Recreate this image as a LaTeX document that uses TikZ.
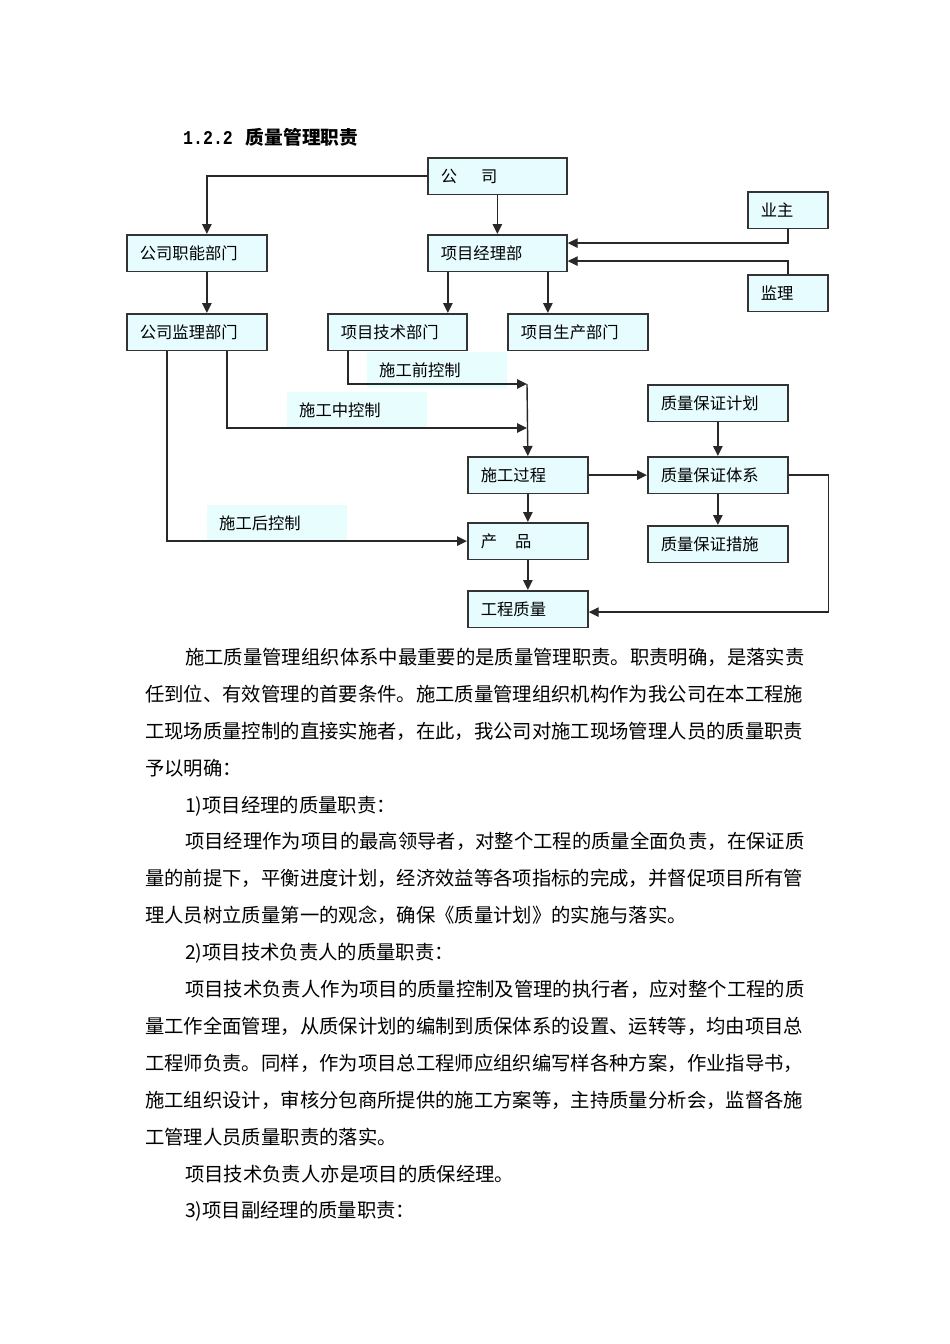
\documentclass[tikz,border=0pt]{standalone}
\usepackage{graphicx}
\usepackage{fontspec}
\newfontfamily\cjk{Noto Sans CJK SC}
\newfontfamily\monofont{Liberation Mono}
\usetikzlibrary{arrows.meta}
\definecolor{boxfill}{RGB}{230,252,255}
\definecolor{lblfill}{RGB}{232,253,253}
\definecolor{linecol}{RGB}{40,40,40}
\tikzset{
  box/.style={draw=black!80, line width=1.7pt, fill=boxfill, anchor=north west,
    minimum height=36.5pt, inner xsep=13pt, inner ysep=0pt, text width=#1, align=left,
    font=\cjk\fontsize{16.3}{16.3}\selectfont},
  lbl/.style={fill=lblfill, anchor=north west, minimum height=36pt, inner xsep=12pt,
    inner ysep=0pt, text width=116pt, align=left, font=\cjk\fontsize{16.3}{16.3}\selectfont},
  conn/.style={draw=linecol, line width=1.4pt},
  arr/.style={conn, -{Triangle[length=10pt,width=9.5pt]}},
  body/.style={anchor=base west, inner sep=0pt, font=\cjk\fontsize{19.35}{19.35}\selectfont}
}
\begin{document}
\begin{tikzpicture}[x=1pt,y=-1pt]
\useasboundingbox (0,0) rectangle (950,1344);
\fill[white] (0,0) rectangle (950,1344);

% heading
\node[anchor=base west, inner sep=0pt] (head) at (183,144)
  {\scalebox{0.85}[1]{\monofont\bfseries\fontsize{19.5}{19.5}\selectfont 1.2.2}\hspace{13pt}{\cjk\bfseries\fontsize{18.7}{18.7}\selectfont 质量管理职责}};

% labels (drawn first, lines go over them)
\node[lbl] (lq) at (367,352) {施工前控制};
\node[lbl] (lz) at (287,392) {施工中控制};
\node[lbl] (lh) at (207,505) {施工后控制};

% boxes
\node[box=113pt] (gs)  at (427,157) {公\hspace{24pt}司};
\node[box=54pt]  (yz)  at (747,191) {业主};
\node[box=114pt] (zn)  at (126,234) {公司职能部门};
\node[box=113pt] (jl)  at (427,234) {项目经理部};
\node[box=54pt]  (jlz) at (747,274) {监理};
\node[box=114pt] (jb)  at (126,313) {公司监理部门};
\node[box=113pt] (jsb) at (327,313) {项目技术部门};
\node[box=114pt] (scb) at (507,313) {项目生产部门};
\node[box=94pt]  (sg)  at (467,456) {施工过程};
\node[box=94pt]  (cp)  at (467,522) {产\hspace{18pt}品};
\node[box=94pt]  (gc)  at (467,590) {工程质量};
\node[box=114pt] (jh)  at (647,384) {质量保证计划};
\node[box=114pt] (tx)  at (647,456) {质量保证体系};
\node[box=114pt] (cs)  at (647,525) {质量保证措施};

\coordinate (m1) at (527,384);
\coordinate (m2) at (527,428);

% connectors
\draw[arr] (gs.west) -| ([xshift=10pt]zn.north);
\draw[arr] (gs.south) -- (jl.north);
\draw[arr] (yz.south) |- ([yshift=10pt]jl.east);
\draw[arr] (jlz.north) |- ([yshift=-8pt]jl.east);
\draw[arr] ([xshift=10pt]zn.south) -- ([xshift=10pt]jb.north);
\draw[arr] ([xshift=-49.5pt]jl.south) -- ([xshift=-49.5pt]jl.south |- jsb.north);
\draw[arr] ([xshift=50.5pt]jl.south) -- ([xshift=50.5pt]jl.south |- scb.north);
\draw[arr] ([xshift=-49.5pt]jsb.south) |- (m1);
\draw[arr] ([xshift=30pt]jb.south) |- (m2);
\draw[arr] (m1) -- (sg.north);
\draw[arr] ([xshift=-30pt]jb.south) |- (cp.west);
\draw[arr] (sg.south) -- (cp.north);
\draw[arr] (cp.south) -- (gc.north);
\draw[arr] (sg.east) -- (sg.east -| tx.west);
\draw[arr] (jh.south) -- (tx.north);
\draw[arr] (tx.south) -- (cs.north);
\draw[arr] (tx.east) -- ++(40,0) |- ([yshift=-3pt]gc.east);

% body text
\foreach \k/\x/\t in {
  0/185/施工质量管理组织体系中最重要的是质量管理职责。职责明确，是落实责,
  1/145/任到位、有效管理的首要条件。施工质量管理组织机构作为我公司在本工程施,
  2/145/工现场质量控制的直接实施者，在此，我公司对施工现场管理人员的质量职责,
  3/145/予以明确：,
  4/185/1)项目经理的质量职责：,
  5/185/项目经理作为项目的最高领导者，对整个工程的质量全面负责，在保证质,
  6/145/量的前提下，平衡进度计划，经济效益等各项指标的完成，并督促项目所有管,
  7/145/理人员树立质量第一的观念，确保《质量计划》的实施与落实。,
  8/185/2)项目技术负责人的质量职责：,
  9/185/项目技术负责人作为项目的质量控制及管理的执行者，应对整个工程的质,
  10/145/量工作全面管理，从质保计划的编制到质保体系的设置、运转等，均由项目总,
  11/145/工程师负责。同样，作为项目总工程师应组织编写样各种方案，作业指导书，,
  12/145/施工组织设计，审核分包商所提供的施工方案等，主持质量分析会，监督各施,
  13/145/工管理人员质量职责的落实。,
  14/185/项目技术负责人亦是项目的质保经理。,
  15/185/3)项目副经理的质量职责：}
  \node[body] (t\k) at (\x,{664.4+36.9*\k}) {\t};
\end{tikzpicture}
\end{document}
